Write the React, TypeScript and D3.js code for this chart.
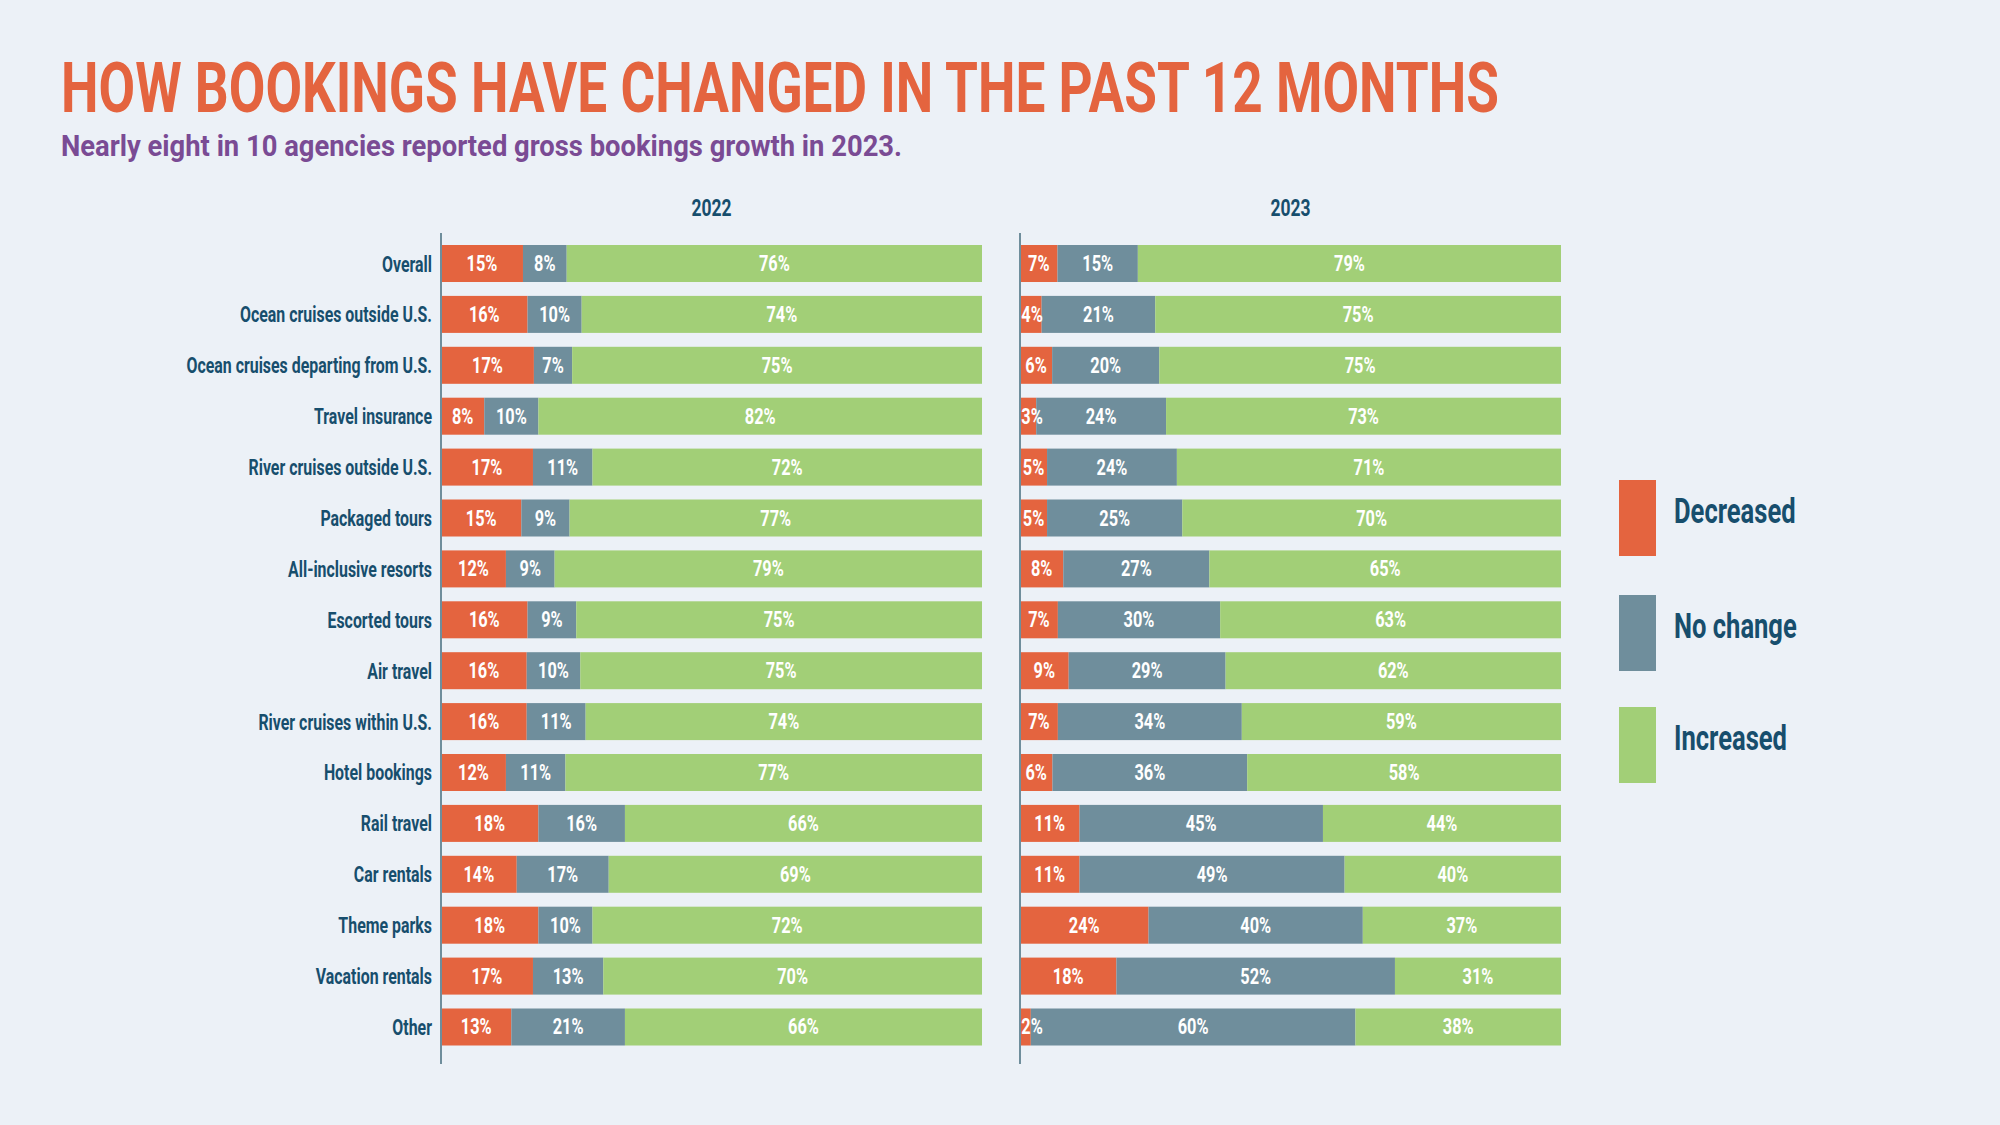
import * as d3 from "d3";
import React from "react";

const categories = [
  "Overall",
  "Ocean cruises outside U.S.",
  "Ocean cruises departing from U.S.",
  "Travel insurance",
  "River cruises outside U.S.",
  "Packaged tours",
  "All-inclusive resorts",
  "Escorted tours",
  "Air travel",
  "River cruises within U.S.",
  "Hotel bookings",
  "Rail travel",
  "Car rentals",
  "Theme parks",
  "Vacation rentals",
  "Other",
];

const decreased2022 = [15, 16, 17, 8, 17, 15, 12, 16, 16, 16, 12, 18, 14, 18, 17, 13];
const noChange2022 = [8, 10, 7, 10, 11, 9, 9, 9, 10, 11, 11, 16, 17, 10, 13, 21];
const increased2022 = [76, 74, 75, 82, 72, 77, 79, 75, 75, 74, 77, 66, 69, 72, 70, 66];

const decreased2023 = [7, 4, 6, 3, 5, 5, 8, 7, 9, 7, 6, 11, 11, 24, 18, 2];
const noChange2023 = [15, 21, 20, 24, 24, 25, 27, 30, 29, 34, 36, 45, 49, 40, 52, 60];
const increased2023 = [79, 75, 75, 73, 71, 70, 65, 63, 62, 59, 58, 44, 40, 37, 31, 38];

const seriesKeys = ["Decreased", "No change", "Increased"];
const colors = ["#E4643F", "#6F8E9C", "#A2CF77"];

const BG = "#ECF1F7";
const NAVY = "#174E6D";
const FONT = "Roboto, 'Liberation Sans', sans-serif";
const SQUEEZE = 0.76;

type Row = { cat: string; [k: string]: number | string };

function buildRows(dec: number[], nc: number[], inc: number[]): Row[] {
  return categories.map((cat, i) => ({
    cat,
    Decreased: dec[i],
    "No change": nc[i],
    Increased: inc[i],
  }));
}

const CText = ({
  x,
  y,
  size,
  fill,
  anchor = "start",
  weight = 700,
  sx = SQUEEZE,
  children,
}: {
  x: number;
  y: number;
  size: number;
  fill: string;
  anchor?: string;
  weight?: number;
  sx?: number;
  children: React.ReactNode;
}) => (
  <text
    transform={`translate(${x},${y}) scale(${sx},1)`}
    textAnchor={anchor}
    fontSize={size}
    fontWeight={weight}
    fontFamily={FONT}
    fill={fill}
  >
    {children}
  </text>
);

const y = d3
  .scaleBand<string>()
  .domain(categories)
  .range([245, 1045.5])
  .paddingInner(0.273)
  .paddingOuter(0);

const Panel = ({ x0, title, rows }: { x0: number; title: string; rows: Row[] }) => {
  const width = 541;
  const x = d3.scaleLinear().domain([0, 1]).range([x0, x0 + width]);
  const stacked = d3
    .stack<Row>()
    .keys(seriesKeys)
    .value((d, k) => d[k] as number)
    .offset(d3.stackOffsetExpand)(rows);

  return (
    <g>
      <CText x={x0 + width / 2} y={216} size={23} fill={NAVY} anchor="middle">
        {title}
      </CText>
      {/* bars first, labels after so small segments don't hide their text */}
      {stacked.map((layer, li) => (
        <g key={layer.key}>
          {layer.map((d) => (
            <rect
              key={d.data.cat as string}
              x={x(d[0])}
              y={y(d.data.cat as string)!}
              width={x(d[1]) - x(d[0])}
              height={y.bandwidth()}
              fill={colors[li]}
            />
          ))}
        </g>
      ))}
      {stacked.map((layer) => (
        <g key={layer.key + "-lbl"}>
          {layer.map((d) => {
            const cat = d.data.cat as string;
            const val = d.data[layer.key] as number;
            let cx = (x(d[0]) + x(d[1])) / 2;
            const halfText = 11;
            if (cx - halfText < x0 + 1) cx = x0 + 1 + halfText;
            return (
              <CText
                key={cat}
                x={cx}
                y={y(cat)! + y.bandwidth() / 2 + 7.5}
                size={21.5}
                fill="#FFFFFF"
                anchor="middle"
              >
                {`${val}%`}
              </CText>
            );
          })}
        </g>
      ))}
      <line x1={x0} x2={x0} y1={233} y2={1064} stroke="#6F8E9C" strokeWidth={2} />
    </g>
  );
};

export default function App() {
  const rows2022 = buildRows(decreased2022, noChange2022, increased2022);
  const rows2023 = buildRows(decreased2023, noChange2023, increased2023);
  const legendTops = [480, 595, 707];

  return (
    <div style={{ position: "absolute", left: 0, top: 0, width: 2000, height: 1125, background: BG }}>
      <svg width={2000} height={1125} style={{ display: "block" }}>
        <rect width={2000} height={1125} fill={BG} />
        <text
          x={61}
          y={112}
          fontSize={71}
          fontWeight={700}
          fontFamily={FONT}
          fill="#E4643F"
          textLength={1438}
          lengthAdjust="spacingAndGlyphs"
        >
          HOW BOOKINGS HAVE CHANGED IN THE PAST 12 MONTHS
        </text>
        <text
          x={61}
          y={156}
          fontSize={30}
          fontWeight={700}
          fontFamily={FONT}
          fill="#7A4B94"
          textLength={841}
          lengthAdjust="spacingAndGlyphs"
        >
          Nearly eight in 10 agencies reported gross bookings growth in 2023.
        </text>

        {categories.map((c) => (
          <CText key={c} x={432} y={y(c)! + y.bandwidth() / 2 + 8} size={21.5} sx={0.74} fill={NAVY} anchor="end">
            {c}
          </CText>
        ))}

        <Panel x0={441} title="2022" rows={rows2022} />
        <Panel x0={1020} title="2023" rows={rows2023} />

        {seriesKeys.map((k, i) => (
          <g key={k}>
            <rect x={1619} y={legendTops[i]} width={37} height={76} fill={colors[i]} />
            <CText x={1674} y={legendTops[i] + 38 + 5} size={35} fill={NAVY} sx={0.73}>
              {k}
            </CText>
          </g>
        ))}
      </svg>
    </div>
  );
}
